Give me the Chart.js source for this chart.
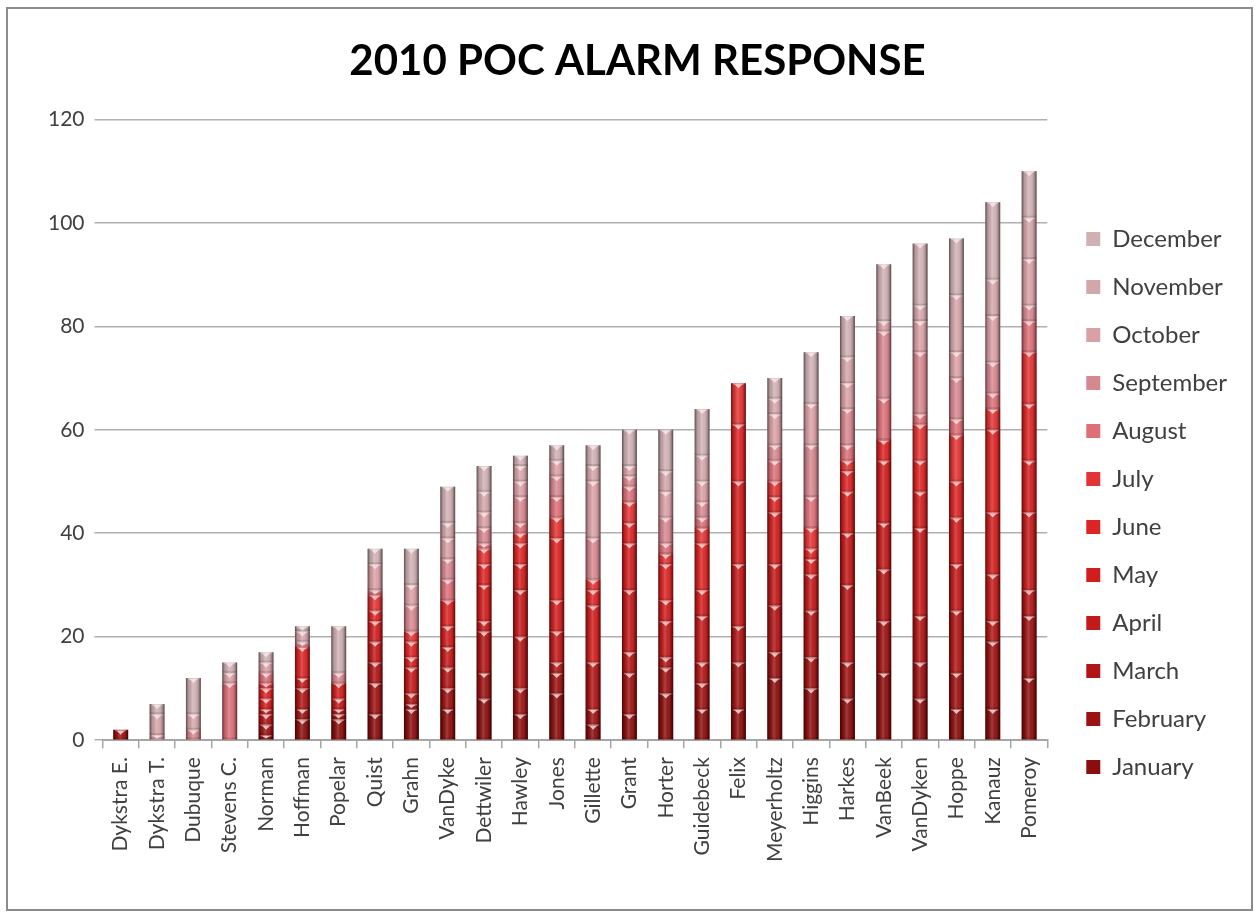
<!DOCTYPE html>
<html>
<head>
<meta charset="utf-8">
<title>2010 POC Alarm Response</title>
<script src="https://cdn.jsdelivr.net/npm/chart.js@4/dist/chart.umd.min.js"></script>
<style>
  html, body { margin: 0; padding: 0; background: #ffffff; }
  #frame {
    position: absolute; left: 6px; top: 7px;
    width: 1243px; height: 900px;
    border: 2px solid #8c8c8c;
    background: #ffffff;
  }
  canvas { display: block; }
</style>
</head>
<body>
<div id="frame"><canvas id="chart" width="1243" height="900"></canvas></div>
<script>
// Responders, ordered by total call count
const categories = ['Dykstra E.', 'Dykstra T.', 'Dubuque', 'Stevens C.', 'Norman', 'Hoffman', 'Popelar',
  'Quist', 'Grahn', 'VanDyke', 'Dettwiler', 'Hawley', 'Jones', 'Gillette', 'Grant', 'Horter',
  'Guidebeck', 'Felix', 'Meyerholtz', 'Higgins', 'Harkes', 'VanBeek', 'VanDyken', 'Hoppe', 'Kanauz', 'Pomeroy'];

const months = ['January', 'February', 'March', 'April', 'May', 'June', 'July',
  'August', 'September', 'October', 'November', 'December'];

// Alarm responses per month, one value per responder
const january   = [0, 0, 0, 0, 1, 4, 4, 5, 6, 6, 8, 5, 9, 3, 5, 9, 6, 6, 12, 10, 8, 13, 8, 6, 6, 12];
const february  = [2, 0, 0, 0, 2, 2, 1, 6, 1, 4, 5, 5, 4, 3, 8, 5, 5, 9, 5, 6, 7, 10, 7, 7, 13, 12];
const march     = [0, 0, 0, 0, 2, 4, 1, 4, 2, 4, 8, 10, 2, 9, 4, 2, 4, 7, 9, 9, 15, 10, 9, 12, 4, 5];
const april     = [0, 0, 0, 0, 1, 2, 2, 4, 5, 4, 2, 9, 6, 0, 12, 7, 9, 12, 8, 7, 10, 9, 17, 9, 9, 15];
const may       = [0, 0, 0, 0, 2, 0, 3, 4, 2, 4, 7, 5, 6, 11, 9, 4, 5, 16, 10, 3, 8, 12, 7, 9, 12, 10];
const june      = [0, 0, 0, 0, 2, 6, 0, 2, 3, 5, 4, 4, 12, 3, 4, 7, 9, 11, 3, 2, 4, 4, 6, 7, 16, 11];
const july      = [0, 0, 0, 0, 1, 0, 0, 3, 2, 0, 3, 2, 4, 2, 4, 2, 3, 8, 3, 4, 2, 0, 7, 9, 4, 10];
const august    = [0, 0, 0, 11, 2, 0, 0, 1, 0, 4, 1, 2, 4, 0, 3, 2, 2, 0, 4, 6, 3, 8, 2, 3, 3, 6];
const september = [0, 0, 2, 0, 0, 1, 2, 0, 5, 4, 3, 5, 4, 8, 2, 5, 3, 0, 3, 10, 7, 13, 12, 8, 6, 3];
const october   = [0, 1, 0, 2, 2, 0, 0, 5, 4, 4, 3, 3, 3, 11, 2, 5, 4, 0, 6, 8, 5, 2, 6, 5, 9, 9];
const november  = [0, 4, 3, 0, 0, 2, 0, 0, 0, 3, 4, 3, 0, 3, 0, 4, 5, 0, 3, 0, 5, 0, 3, 11, 7, 8];
const december  = [0, 2, 7, 2, 2, 1, 9, 3, 7, 7, 5, 2, 3, 4, 7, 8, 9, 0, 4, 10, 8, 11, 12, 11, 15, 9];

const yTicks = [0, 20, 40, 60, 80, 100, 120];

const monthColors = ['#8a0e0e', '#9c1212', '#b01616', '#c21a1a', '#d01e1e', '#dc2424', '#e23434',
  '#dc6f78', '#d68890', '#d9a0a6', '#d3a6ab', '#cfb0b3'];

const series = [january, february, march, april, may, june, july,
  august, september, october, november, december];

// Cylinder-like shading drawn over each stacked segment
const barShading = {
  id: 'barShading',
  afterDatasetsDraw(chart) {
    const ctx = chart.ctx;
    chart.data.datasets.forEach((ds, di) => {
      const meta = chart.getDatasetMeta(di);
      if (meta.hidden) return;
      meta.data.forEach((bar) => {
        const p = bar.getProps(['x', 'y', 'base', 'width'], true);
        const h = p.base - p.y;
        if (h < 1) return;
        const l = p.x - p.width / 2;
        ctx.save();
        const g = ctx.createLinearGradient(l, 0, l + p.width, 0);
        g.addColorStop(0, 'rgba(0,0,0,0.55)');
        g.addColorStop(0.18, 'rgba(0,0,0,0.12)');
        g.addColorStop(0.45, 'rgba(255,255,255,0.2)');
        g.addColorStop(0.62, 'rgba(255,255,255,0.05)');
        g.addColorStop(0.85, 'rgba(0,0,0,0.2)');
        g.addColorStop(1, 'rgba(0,0,0,0.6)');
        ctx.fillStyle = g;
        ctx.fillRect(l, p.y, p.width, h);
        if (h > 3) {
          ctx.fillStyle = 'rgba(0,0,0,0.12)';
          ctx.fillRect(l, p.base - 2, p.width, 2);
          ctx.fillStyle = 'rgba(255,255,255,0.35)';
          ctx.fillRect(l + 2, p.y, p.width - 4, 1.5);
          ctx.beginPath();
          ctx.moveTo(p.x - 4, p.y + 1);
          ctx.lineTo(p.x + 4, p.y + 1);
          ctx.lineTo(p.x, p.y + Math.min(5, h - 1));
          ctx.closePath();
          ctx.fillStyle = 'rgba(255,235,235,0.75)';
          ctx.fill();
        }
        ctx.restore();
      });
    });
  }
};

const datasets = months.map((m, i) => ({
  label: m,
  data: series[i],
  backgroundColor: monthColors[i],
  borderWidth: 0,
  barPercentage: 0.82,
  categoryPercentage: 0.5
}));

new Chart(document.getElementById('chart'), {
  type: 'bar',
  data: { labels: categories, datasets },
  plugins: [barShading],
  options: {
    responsive: false,
    devicePixelRatio: 1,
    animation: false,
    layout: { padding: { left: 30, right: 14, top: 0, bottom: 38 } },
    font: { family: 'Lato' },
    plugins: {
      title: {
        display: true,
        text: '2010 POC ALARM RESPONSE',
        color: '#000000',
        font: { family: 'Lato', size: 42, weight: 'bold' },
        padding: { top: 27, bottom: 33 }
      },
      legend: {
        position: 'right',
        reverse: true,
        title: { display: true, text: ' ', font: { size: 20 }, padding: { top: 43, bottom: 59 } },
        labels: {
          color: '#404040',
          font: { family: 'Lato', size: 24 },
          boxWidth: 14,
          boxHeight: 14,
          padding: 24
        }
      },
      tooltip: { enabled: false }
    },
    scales: {
      x: {
        stacked: true,
        grid: { display: true, drawOnChartArea: false, drawTicks: true, tickLength: 8, color: '#a6a6a6', lineWidth: 1.5 },
        border: { display: true, color: '#a6a6a6', width: 2 },
        ticks: {
          color: '#404040',
          font: { family: 'Lato', size: 21 },
          minRotation: 90,
          maxRotation: 90,
          autoSkip: false,
          padding: 9
        }
      },
      y: {
        stacked: true,
        min: 0,
        max: 120,
        afterBuildTicks(scale) { scale.ticks = yTicks.map(v => ({ value: v })); },
        grid: { color: '#b0b0b0', lineWidth: 1.5, drawTicks: true, tickLength: 8 },
        border: { display: false },
        ticks: {
          color: '#404040',
          font: { family: 'Lato', size: 21 },
          padding: 10
        }
      },
      // empty spacer between the plot and the legend
      gap: {
        type: 'linear',
        position: 'right',
        display: true,
        grid: { display: false, drawTicks: false },
        border: { display: false },
        ticks: { display: false },
        afterFit(scale) { scale.width = 15; }
      }
    }
  }
});
</script>
</body>
</html>
